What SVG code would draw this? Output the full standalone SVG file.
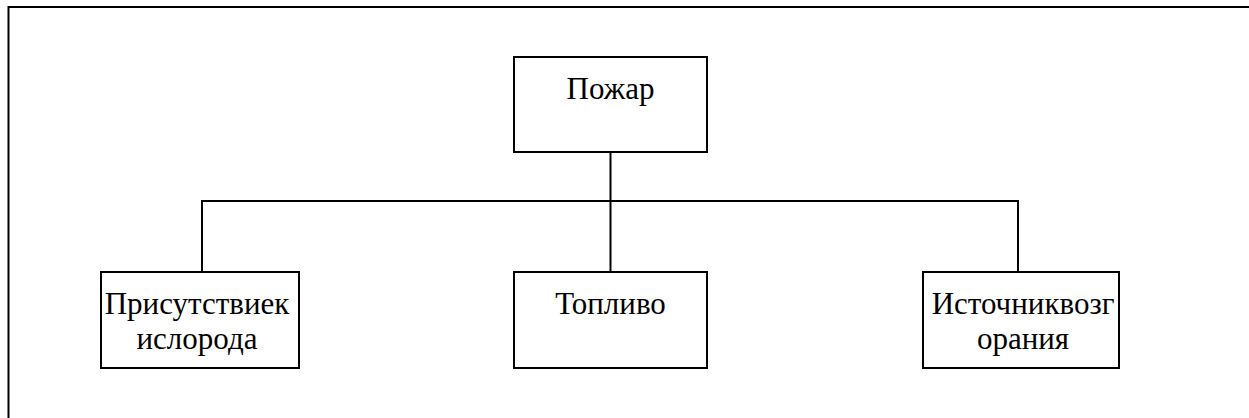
<svg xmlns="http://www.w3.org/2000/svg" width="1249" height="418" viewBox="0 0 1249 418">
<style>
.box{fill:#fff;stroke:#000;stroke-width:2}
.ln{fill:none;stroke:#000;stroke-width:2}
text{font-family:"Liberation Serif","Times New Roman",serif;font-size:31px;fill:#000;text-anchor:middle}
</style>
<rect width="1249" height="418" fill="#fff"/>
<path class="ln" d="M8.5,418 V7 H1249"/>
<g id="connectors">
<path class="ln" d="M610.5,152 V201 M202,201 H1018 M202,200 V272 M610.5,201 V272 M1018,200 V272"/>
</g>
<g id="n-fire">
<rect class="box" x="514" y="57" width="193" height="95"/>
<text x="610.5" y="99">Пожар</text>
</g>
<g id="n-oxygen">
<rect class="box" x="101" y="272" width="198" height="96"/>
<text x="197" y="314">Присутствиек</text>
<text x="197" y="349">ислорода</text>
</g>
<g id="n-fuel">
<rect class="box" x="514" y="272" width="193" height="96"/>
<text x="610.5" y="314">Топливо</text>
</g>
<g id="n-ignition">
<rect class="box" x="923" y="272" width="196" height="96"/>
<text x="1023" y="314">Источниквозг</text>
<text x="1023" y="349">орания</text>
</g>
</svg>
